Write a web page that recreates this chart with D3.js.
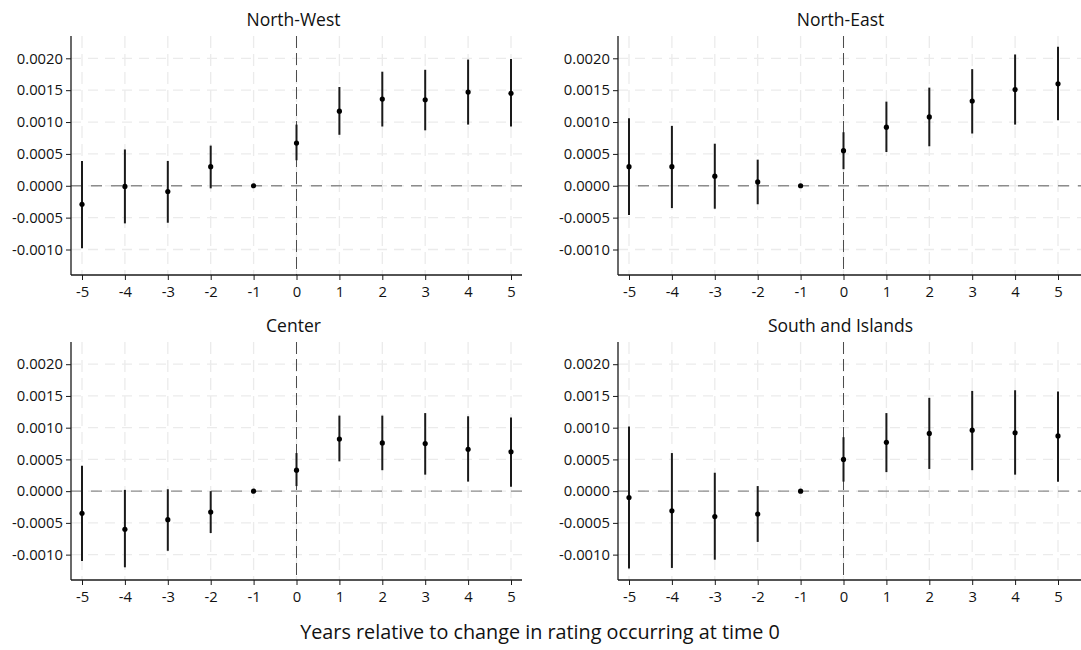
<!DOCTYPE html>
<html>
<head>
<meta charset="utf-8">
<script src="https://cdn.jsdelivr.net/npm/d3@7"></script>
<style>
  body { margin: 0; background: #fff; }
  svg { display: block; font-family: "Open Sans", "Lato", sans-serif; }
</style>
</head>
<body>
<svg id="chart" width="1081" height="650"></svg>
<script>
// Event time (years relative to the rating change)
const years = [-5, -4, -3, -2, -1, 0, 1, 2, 3, 4, 5];
const yTicks = [-0.0010, -0.0005, 0.0000, 0.0005, 0.0010, 0.0015, 0.0020];
const regions = ["North-West", "North-East", "Center", "South and Islands"];

// Point estimates by region
const estNW = [-0.00029, -0.00001, -0.00009, 0.00030, 0, 0.00067, 0.00117, 0.00136, 0.00135, 0.00147, 0.00145];
const estNE = [0.00030, 0.00030, 0.00015, 0.00006, 0, 0.00055, 0.00092, 0.00108, 0.00133, 0.00151, 0.00160];
const estC  = [-0.00035, -0.00060, -0.00045, -0.00033, 0, 0.00033, 0.00082, 0.00076, 0.00075, 0.00066, 0.00062];
const estS  = [-0.00010, -0.00031, -0.00040, -0.00036, 0, 0.00050, 0.00077, 0.00091, 0.00096, 0.00092, 0.00087];

// Confidence interval bounds (null = reference year, no interval)
const loNW = [-0.00098, -0.00059, -0.00058, -0.00004, null, 0.00040, 0.00080, 0.00093, 0.00087, 0.00096, 0.00093];
const hiNW = [0.00039, 0.00057, 0.00039, 0.00063, null, 0.00096, 0.00155, 0.00179, 0.00182, 0.00198, 0.00199];
const loNE = [-0.00046, -0.00035, -0.00036, -0.00029, null, 0.00026, 0.00053, 0.00062, 0.00082, 0.00096, 0.00103];
const hiNE = [0.00106, 0.00094, 0.00066, 0.00041, null, 0.00084, 0.00132, 0.00154, 0.00183, 0.00206, 0.00218];
const loC  = [-0.00110, -0.00120, -0.00094, -0.00066, null, 0.00008, 0.00047, 0.00033, 0.00026, 0.00015, 0.00007];
const hiC  = [0.00040, 0.00002, 0.00003, 0.00000, null, 0.00060, 0.00119, 0.00119, 0.00123, 0.00118, 0.00116];
const loS  = [-0.00122, -0.00121, -0.00108, -0.00080, null, 0.00015, 0.00030, 0.00035, 0.00033, 0.00026, 0.00015];
const hiS  = [0.00102, 0.00060, 0.00029, 0.00008, null, 0.00085, 0.00123, 0.00147, 0.00158, 0.00159, 0.00157];

const panels = [
  { name: regions[0], est: estNW, lo: loNW, hi: hiNW },
  { name: regions[1], est: estNE, lo: loNE, hi: hiNE },
  { name: regions[2], est: estC,  lo: loC,  hi: hiC  },
  { name: regions[3], est: estS,  lo: loS,  hi: hiS  }
];

const svg = d3.select("#chart");

// Panel frames: left edge of the y axis, right end of the x axis, top of plot, bottom axis line
const frames = [
  { x0: 71,  x1: 522,  top: 36,  bottom: 275 },
  { x0: 618, x1: 1081, top: 36,  bottom: 275 },
  { x0: 71,  x1: 522,  top: 342, bottom: 580 },
  { x0: 618, x1: 1081, top: 342, bottom: 580 }
];

panels.forEach((p, i) => {
  const f = frames[i];
  const g = svg.append("g");

  const firstX = f.x0 + 11;
  const x = d3.scaleLinear().domain([-5, 5]).range([firstX, firstX + 429]);
  const y = d3.scaleLinear().domain([-0.0014, 0.00235]).range([f.bottom, f.top]);

  // Grid
  g.append("g").selectAll("line").data(yTicks).join("line")
    .attr("x1", f.x0).attr("x2", f.x1)
    .attr("y1", d => y(d)).attr("y2", d => y(d))
    .attr("stroke", "#ebebeb").attr("stroke-width", 1.3)
    .attr("stroke-dasharray", "10,7");
  g.append("g").selectAll("line").data(years).join("line")
    .attr("x1", d => x(d)).attr("x2", d => x(d))
    .attr("y1", f.top).attr("y2", f.bottom)
    .attr("stroke", "#ebebeb").attr("stroke-width", 1.3)
    .attr("stroke-dasharray", "12,6");

  // Zero reference line
  g.append("line")
    .attr("x1", f.x0).attr("x2", f.x1)
    .attr("y1", y(0)).attr("y2", y(0))
    .attr("stroke", "#8c8c8c").attr("stroke-width", 1.3)
    .attr("stroke-dasharray", "11,9");

  // Event-time line at 0
  g.append("line")
    .attr("x1", x(0)).attr("x2", x(0))
    .attr("y1", f.top).attr("y2", f.bottom)
    .attr("stroke", "#4d4d4d").attr("stroke-width", 1)
    .attr("stroke-dasharray", "12,5");

  // Axes
  const yAxis = d3.axisLeft(y).tickValues(yTicks).tickFormat(d3.format(".4f")).tickSize(5).tickPadding(3);
  const ya = g.append("g").attr("transform", `translate(${f.x0},0)`).call(yAxis);
  ya.select(".domain").attr("d", `M0,${f.top}V${f.bottom}`);

  const xAxis = d3.axisBottom(x).tickValues(years).tickFormat(d3.format("d")).tickSize(5).tickPadding(6);
  const xa = g.append("g").attr("transform", `translate(0,${f.bottom})`).call(xAxis);
  xa.select(".domain").attr("d", `M${f.x0},0H${f.x1}`);

  [ya, xa].forEach(a => {
    a.select(".domain").attr("stroke", "#1a1a1a").attr("stroke-width", 1.3);
    a.selectAll(".tick line").attr("stroke", "#1a1a1a").attr("stroke-width", 1);
    a.selectAll(".tick text").attr("fill", "#111").style("font-size", "14.8px")
      .style("font-family", "'Open Sans', sans-serif");
  });
  // Plain hyphen for negative labels
  ya.selectAll(".tick text").text(d => d3.format(".4f")(d).replace("\u2212", "-"));
  xa.selectAll(".tick text").text(d => String(d));

  // Confidence intervals
  const rows = years.map((yr, k) => ({ yr, est: p.est[k], lo: p.lo[k], hi: p.hi[k] }));
  g.append("g").selectAll("line").data(rows.filter(d => d.lo !== null)).join("line")
    .attr("x1", d => x(d.yr)).attr("x2", d => x(d.yr))
    .attr("y1", d => y(d.lo)).attr("y2", d => y(d.hi))
    .attr("stroke", "#1a1a1a").attr("stroke-width", 2);

  // Point estimates
  g.append("g").selectAll("circle").data(rows).join("circle")
    .attr("cx", d => x(d.yr)).attr("cy", d => y(d.est))
    .attr("r", 2.6).attr("fill", "#000");

  // Panel title
  g.append("text")
    .attr("x", x(0) - 3)
    .attr("y", f.top - 10)
    .attr("text-anchor", "middle")
    .style("font-size", "17.5px").attr("fill", "#111")
    .text(p.name);
});

// Shared x-axis title
svg.append("text")
  .attr("x", 540).attr("y", 639)
  .attr("text-anchor", "middle")
  .style("font-size", "19.8px").attr("fill", "#111")
  .text("Years relative to change in rating occurring at time 0");
</script>
</body>
</html>
